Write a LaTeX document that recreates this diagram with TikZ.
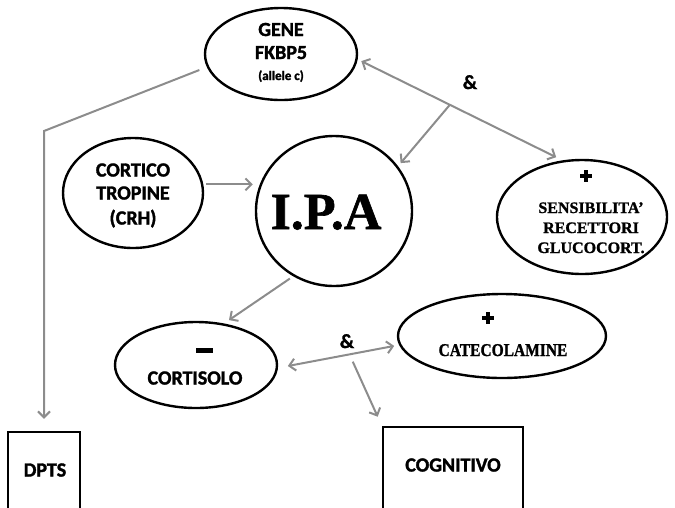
\documentclass[tikz,border=0pt]{standalone}
\usepackage{fontspec}
\usetikzlibrary{shapes.geometric,arrows.meta,calc}
\newfontfamily\calib{Carlito}[BoldFont={Carlito Bold}, BoldFeatures={FakeBold=1.6}]
\newfontfamily\tnr{Liberation Serif}[BoldFont={Liberation Serif Bold}, BoldFeatures={FakeBold=1.2}]
\newfontfamily\tnrnarrow{Liberation Serif}[FakeStretch=0.86, BoldFont={Liberation Serif Bold}, BoldFeatures={FakeBold=1.2}]
\definecolor{linkgray}{RGB}{140,140,140}

\begin{document}
\begin{tikzpicture}[x=1pt,y=-1pt,
  bubble/.style={ellipse,draw=black,line width=2.4pt,inner sep=0pt},
  panel/.style={rectangle,draw=black,line width=2.4pt,inner sep=0pt},
  sanstext/.style={anchor=base,inner sep=0pt,font=\calib\bfseries\fontsize{20}{24}\selectfont},
  smalltext/.style={anchor=base,inner sep=0pt,font=\calib\bfseries\fontsize{13}{15}\selectfont},
  seriftext/.style={anchor=base,inner sep=0pt,font=\tnr\bfseries\fontsize{16}{19}\selectfont},
  link/.style={draw=linkgray,line width=2pt,arrows={-Straight Barb[length=6pt,width=12pt]}},
  biglink/.style={draw=linkgray,line width=2pt,arrows={Straight Barb[length=6pt,width=12pt]-Straight Barb[length=6pt,width=12pt]}},
  pics/plusmark/.style={code={\fill (-6,-2.3) rectangle (6,2.3); \fill (-2.3,-6) rectangle (2.3,6);}}]

\useasboundingbox (0,0) rectangle (675,507);

% outlines
\node[bubble, minimum width=152pt, minimum height=92pt]  (gene)    at (281,54)  {};
\node[bubble, minimum width=140pt, minimum height=110pt] (cortico) at (133,193) {};
\node[bubble, minimum width=156pt, minimum height=150pt] (ipa)     at (334,211) {};
\node[bubble, minimum width=170pt, minimum height=114pt] (sens)    at (582,217) {};
\node[bubble, minimum width=162pt, minimum height=86pt]  (cort)    at (196,365) {};
\node[bubble, minimum width=208pt, minimum height=84pt]  (cate)    at (502,336) {};
\node[panel, minimum width=72pt, minimum height=88pt]    (dpts)    at (44,476)  {};
\node[panel, minimum width=140pt, minimum height=93pt]   (cogn)    at (453,473.5) {};

% labels
\node[sanstext]  (geneA) at (281,36)  {GENE};
\node[sanstext]  (geneB) at (281,59)  {FKBP5};
\node[smalltext] (geneC) at (281,80)  {(allele c)};
\node[sanstext]  (crhA)  at (133,176.5) {CORTICO};
\node[sanstext]  (crhB)  at (133,199.5) {TROPINE};
\node[sanstext]  (crhC)  at (133,224.5) {(CRH)};
\node[anchor=base,inner sep=0pt,font=\tnr\bfseries\fontsize{52}{58}\selectfont] (ipaT) at (326,229) {I.P.A};
\node[seriftext] (sensA) at (591,213) {SENSIBILITA’};
\node[seriftext] (sensB) at (591,233) {RECETTORI};
\node[seriftext] (sensC) at (591,253) {GLUCOCORT.};
\node[anchor=base,inner sep=0pt,font=\tnrnarrow\bfseries\fontsize{18}{20}\selectfont] (cateT) at (503,356) {CATECOLAMINE};
\node[sanstext]  (cortT) at (195,384.5) {CORTISOLO};
\node[sanstext]  (dptsT) at (45,476.5)  {DPTS};
\node[sanstext]  (cognT) at (453,471.5) {COGNITIVO};
\node[sanstext]  (ampA)  at (470,89)  {\&};
\node[sanstext]  (ampB)  at (347,348) {\&};

% signs
\pic at (586,176) {plusmark};
\pic at (488,318) {plusmark};
\fill (195.5,347.5) rectangle (212.5,352.5);

% connectors
\coordinate (genebend) at (44,131);
\draw[link, shorten <=8pt, shorten >=12pt] (gene.190) -- (genebend) -- (dpts.north);
\draw[biglink, shorten <=4pt, shorten >=7pt] (gene.-4) -- coordinate[pos=0.45] (fork) (sens.109);
\draw[link, shorten >=4pt] (fork) -- (ipa.35);
\draw[link, shorten <=3pt, shorten >=2pt] (cortico.7) -- (cortico.7 -| ipa.west);
\draw[link, shorten <=4pt, shorten >=6pt] (ipa.238) -- (cort.56);
\draw[biglink, shorten <=10pt, shorten >=5pt] (cort.-2) -- coordinate[pos=0.59] (fork2) (cate.185);
\draw[link, shorten <=8pt, shorten >=10pt] (fork2) -- (cogn.north west);
\end{tikzpicture}
\end{document}
